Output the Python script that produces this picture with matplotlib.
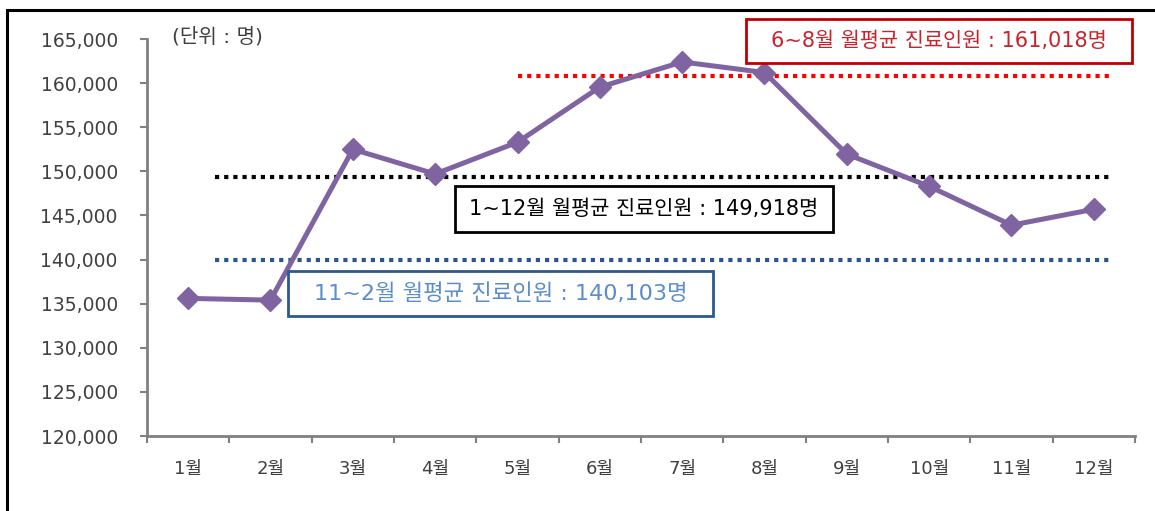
import matplotlib
matplotlib.use("Agg")
import matplotlib.pyplot as plt
from matplotlib.patches import Rectangle
from matplotlib.ticker import FuncFormatter, MultipleLocator, FixedLocator

# DejaVu for digits (wide, like the original), Noto CJK for Hangul
plt.rcParams['font.family'] = ['DejaVu Sans', 'Noto Sans CJK KR']

# -------- DATA ------------------------------------------------------
MONTHS = ["1월", "2월", "3월", "4월", "5월", "6월",
          "7월", "8월", "9월", "10월", "11월", "12월"]
PATIENTS = [135600, 135400, 152500, 149700, 153300, 159550,
            162400, 161200, 151950, 148300, 143900, 145700]

# average lines as drawn: (level, first month idx, last month idx)
AVG_LEVELS = [160800, 149350, 139950]
AVG_SPANS = [(4.0, 11.23), (0.32, 11.18), (0.32, 11.18)]
AVG_LABELS = ["6~8월 월평균 진료인원 : 161,018명",
              "1~12월 월평균 진료인원 : 149,918명",
              "11~2월 월평균 진료인원 : 140,103명"]
UNIT_LABEL = "(단위 : 명)"
# --------------------------------------------------------------------

W, H = 1155, 511
LINE_COLORS = ["#ff0000", "#000000", "#2a5591"]
BOX_EDGE = ["#c00000", "#000000", "#2b5a8f"]
BOX_TEXT = ["#c8232c", "#000000", "#5b8ccb"]
BOX_FS = [15, 15, 16]
# box extents in pixels: x0, y0, x1, y1
BOXES = [(746, 19, 1132, 63), (455, 186, 833, 232), (288, 271, 713, 316)]
GRAY = "#808080"
TXT = "#404040"


def main():
    fig = plt.figure(figsize=(W / 100, H / 100), dpi=100)
    ax = fig.add_axes([147 / W, 1 - 436 / H, (1135 - 147) / W, (436 - 39) / H])

    x = list(range(len(MONTHS)))

    for lvl, (a, b), c in zip(AVG_LEVELS, AVG_SPANS, LINE_COLORS):
        ax.plot([a, b], [lvl, lvl], color=c, linewidth=3.0,
                linestyle=(0, (1, 1.2)), zorder=2)

    ax.plot(x, PATIENTS, color="#8064a2", linewidth=3.6, marker="D",
            markersize=11, zorder=3)

    ax.set_xlim(-0.5, len(MONTHS) - 0.5)
    ax.set_ylim(120000, 165000)
    ax.yaxis.set_major_locator(MultipleLocator(5000))
    ax.yaxis.set_major_formatter(FuncFormatter(lambda v, p: f"{int(v):,}"))

    ax.set_xticks(x)
    ax.set_xticklabels(MONTHS)
    ax.xaxis.set_minor_locator(FixedLocator([i - 0.5 for i in range(len(MONTHS) + 1)]))
    ax.tick_params(axis="x", which="major", length=0, pad=17,
                   labelsize=13, labelcolor=TXT)
    ax.tick_params(axis="x", which="minor", length=5, width=1.5, color=GRAY)
    ax.tick_params(axis="y", length=5, width=1.5, color=GRAY, pad=16,
                   labelsize=13.5, labelcolor=TXT)

    for s in ["top", "right"]:
        ax.spines[s].set_visible(False)
    for s in ["left", "bottom"]:
        ax.spines[s].set_color(GRAY)
        ax.spines[s].set_linewidth(2)

    fig.text(172 / W, 1 - 37 / H, UNIT_LABEL, fontsize=14.5, color=TXT,
             ha="left", va="center")

    # annotation boxes
    for (x0, y0, x1, y1), txt, ec, tc, fs in zip(BOXES, AVG_LABELS, BOX_EDGE, BOX_TEXT, BOX_FS):
        fig.add_artist(Rectangle((x0 / W, 1 - y1 / H), (x1 - x0) / W, (y1 - y0) / H,
                                 transform=fig.transFigure, facecolor="white",
                                 edgecolor=ec, linewidth=2, zorder=5))
        fig.text((x0 + x1) / 2 / W, 1 - (y0 + y1) / 2 / H, txt, fontsize=fs,
                 color=tc, ha="center", va="center", zorder=6)

    # outer frame
    fig.add_artist(Rectangle((7 / W, -0.1), 1.2, 1 - 10 / H + 0.1,
                             transform=fig.transFigure, fill=False,
                             edgecolor="black", linewidth=2.2))

    fig.savefig("out.png", dpi=100)


if __name__ == "__main__":
    main()
